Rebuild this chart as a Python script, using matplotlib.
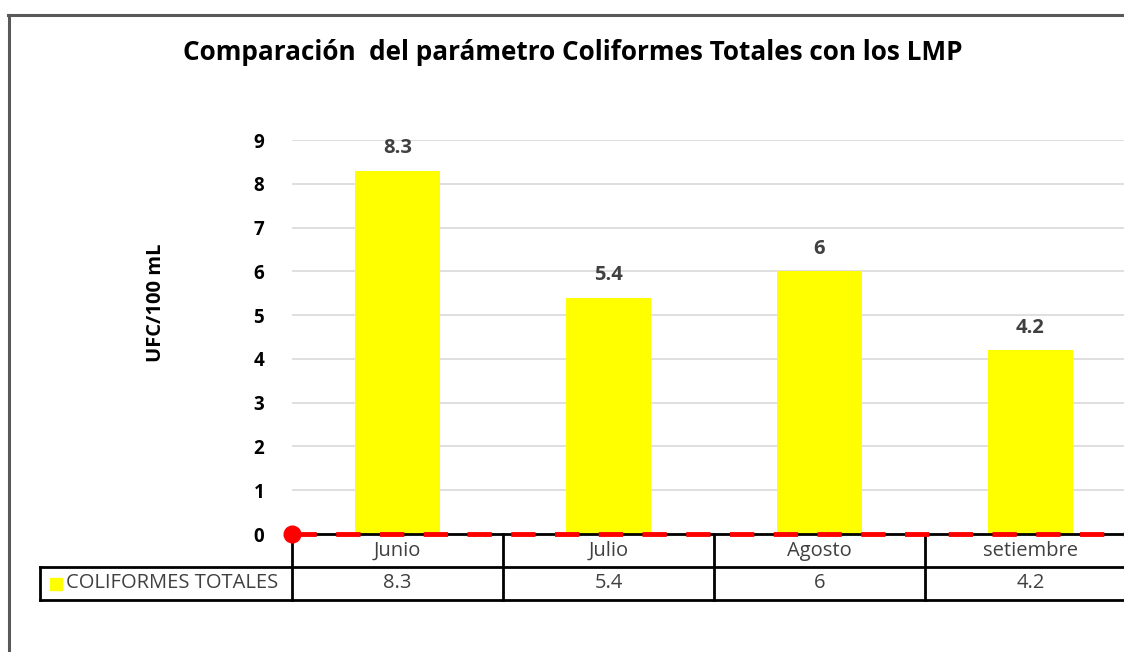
import matplotlib.pyplot as plt
from matplotlib.lines import Line2D
from matplotlib.patches import Rectangle
import matplotlib.transforms as mtransforms

plt.rcParams['font.family'] = ['Open Sans', 'DejaVu Sans']

# datos
meses = ['Junio', 'Julio', 'Agosto', 'setiembre']
coliformes = [8.3, 5.4, 6, 4.2]
lmp = [0, 0, 0, 0]
etiquetas = ['8.3', '5.4', '6', '4.2']
serie = 'COLIFORMES TOTALES'

W, H = 1124, 652
fig = plt.figure(figsize=(W / 100, H / 100), dpi=100)

# marco exterior (cortado a la derecha y abajo)
fig.add_artist(Line2D([8 / W, 1.0], [1 - 15 / H, 1 - 15 / H], color='#595959', lw=2.2))
fig.add_artist(Line2D([9 / W, 9 / W], [0, 1 - 15 / H], color='#595959', lw=2.2))

# area de trazado: x0=292px, ancho de categoria 211px, y: 0 en 534px, 9 en 140px
cat_w = 211
ax = fig.add_axes([292 / W, (H - 534) / H, 4 * cat_w / W, (534 - 140) / H])
x = list(range(len(meses)))
ax.bar(x, coliformes, width=0.4, color='#FFFF00', zorder=2)
ax.set_xlim(-0.5, 3.5)
ax.set_ylim(0, 9)
ax.set_yticks(range(10))
ax.set_yticklabels([str(i) for i in range(10)], fontsize=13.5, fontweight='bold')
ax.tick_params(axis='y', length=0, pad=20)
ax.set_xticks([])
ax.grid(axis='y', color='#D9D9D9', lw=1.2, zorder=0)
for s in ['top', 'right', 'left']:
    ax.spines[s].set_visible(False)
ax.spines['bottom'].set_color('black')
ax.spines['bottom'].set_linewidth(2)
ax.spines['bottom'].set_zorder(3)

for xi, v, t in zip(x, coliformes, etiquetas):
    ax.annotate(t, (xi, v), xytext=(0, 9), textcoords='offset points', ha='center',
                va='bottom', fontsize=14.5, fontweight='bold', color='#404040')

# LMP: linea roja discontinua en 0 con marcador al inicio
ax.plot([-0.5] + x + [3.5], [lmp[0]] + lmp + [lmp[-1]], color='#FF0000', lw=3.5,
        dashes=(5, 4), zorder=4, clip_on=False)
ax.plot([-0.5], [lmp[0]], 'o', color='#FF0000', ms=12, zorder=5, clip_on=False)

fig.text(156 / W, 1 - 303 / H, 'UFC/100 mL', rotation=90, ha='center', va='center',
         fontsize=14.5, fontweight='bold')

fig.text(573 / W, 1 - 52 / H, 'Comparación  del parámetro Coliformes Totales con los LMP',
         ha='center', va='center', fontsize=18.8, fontweight='bold', color='black')

# tabla de datos
tr = mtransforms.blended_transform_factory(ax.transData, ax.transAxes)
row = 33 / (534 - 140)
x_left = -0.5 - (292 - 40) / cat_w
kw = dict(transform=tr, color='black', lw=2, clip_on=False)
ax.add_line(Line2D([x_left, 3.6], [-row, -row], **kw))
ax.add_line(Line2D([x_left, 3.6], [-2 * row, -2 * row], **kw))
ax.add_line(Line2D([x_left, x_left], [-row, -2 * row], **kw))
for b in [-0.5, 0.5, 1.5, 2.5]:
    ax.add_line(Line2D([b, b], [0, -2 * row], **kw))
for xi, m, v in zip(x, meses, coliformes):
    ax.text(xi, -0.52 * row, m, transform=tr, ha='center', va='center', fontsize=14.5,
            color='#404040')
    ax.text(xi, -1.5 * row, f'{v:g}', transform=tr, ha='center', va='center',
            fontsize=14.5, color='#404040')
ax.add_patch(Rectangle((x_left + 10 / cat_w, -1.5 * row - 6 / 394), 12 / cat_w, 12 / 394,
                       transform=tr, color='#FFFF00', clip_on=False))
ax.text(x_left + 26 / cat_w, -1.5 * row, serie, transform=tr, ha='left', va='center',
        fontsize=14.5, color='#404040')

fig.savefig('out.png', dpi=100)
